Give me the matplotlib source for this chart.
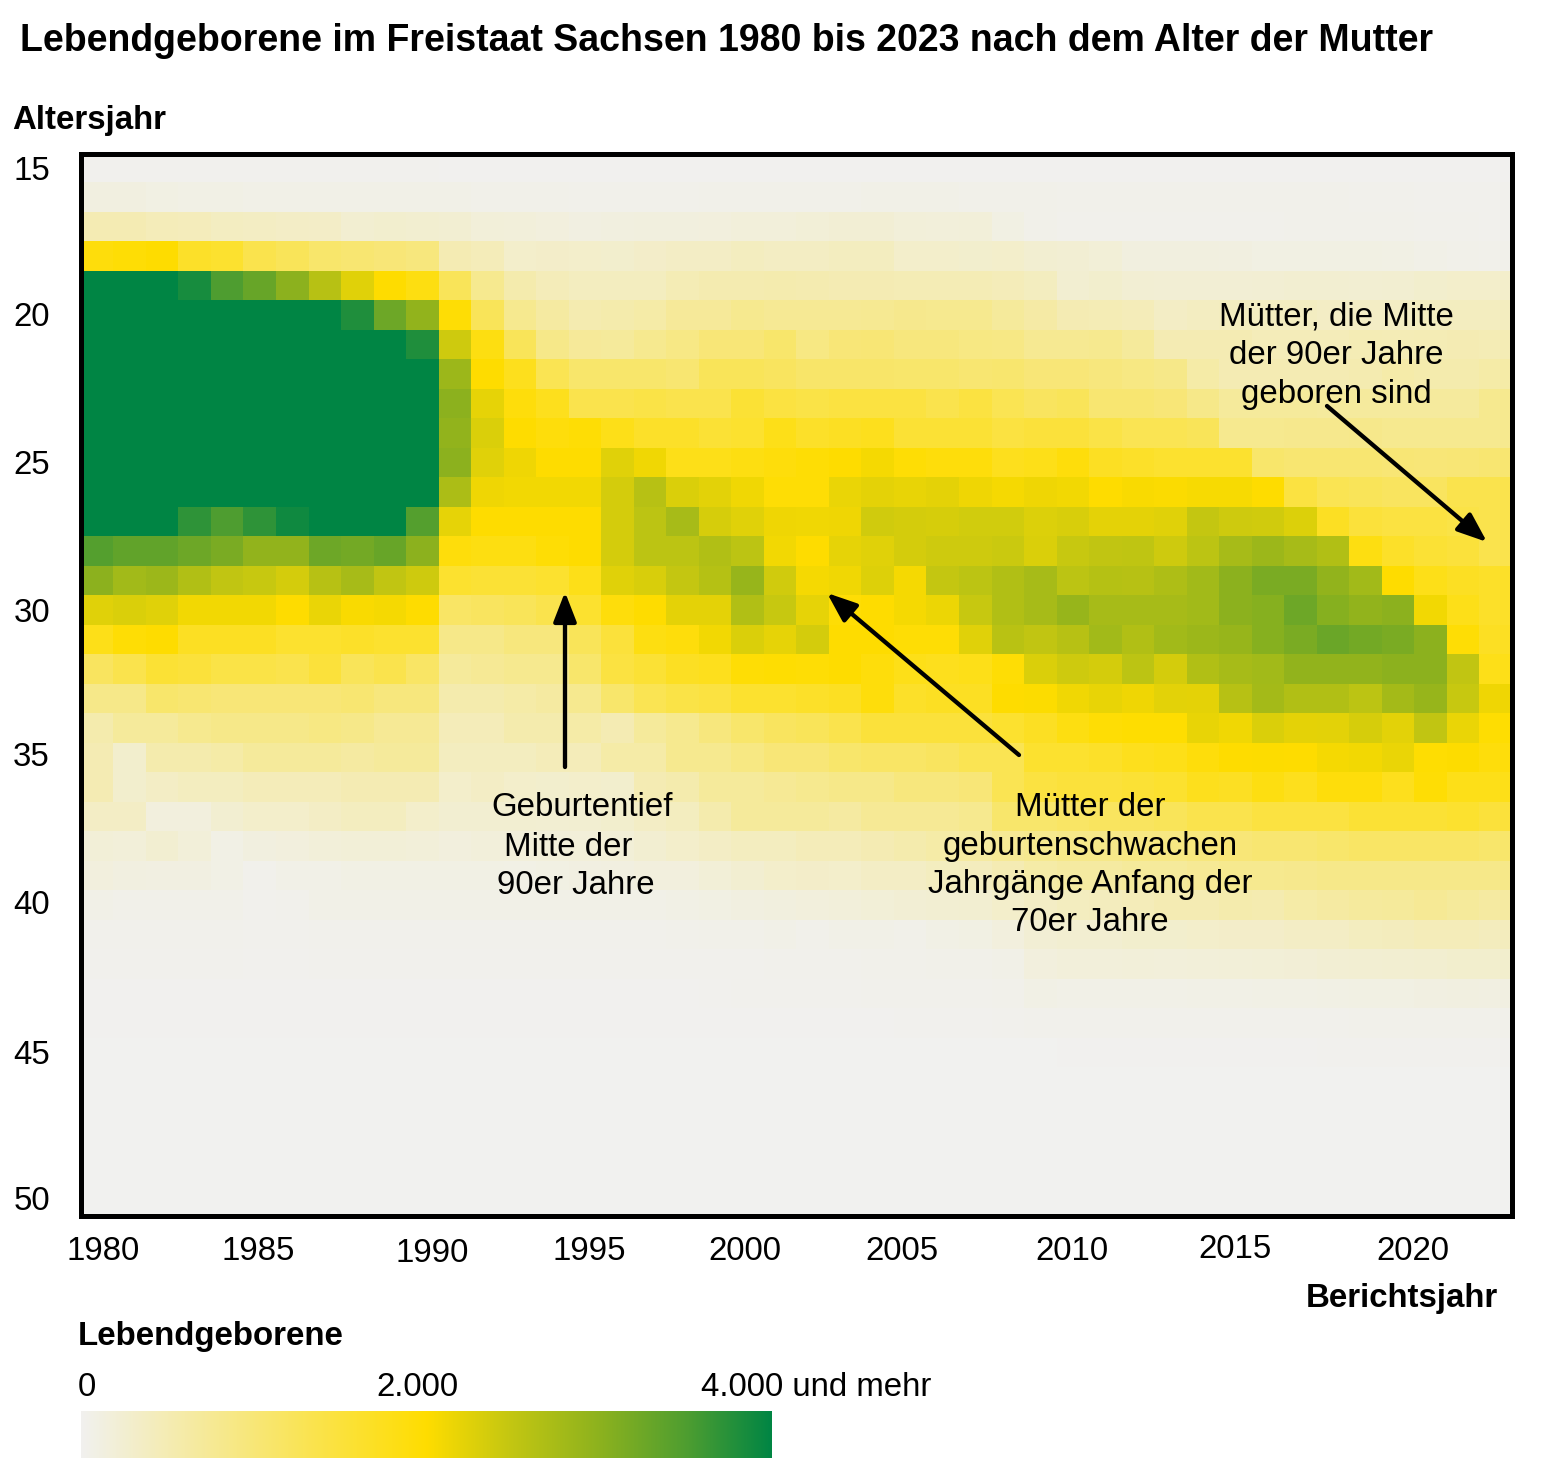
import numpy as np
import matplotlib
matplotlib.use("Agg")
import matplotlib.pyplot as plt
from matplotlib.colors import LinearSegmentedColormap, Normalize

plt.rcParams['font.family'] = ['Liberation Sans', 'DejaVu Sans']

# === Data: births per year (1980-2023) for each age of the mother ===
years = list(range(1980, 2024))
ages = list(range(15, 51))

age_15 = [15]*11 + [10]*19 + [5]*14
age_16 = [120,120,100,80,80,70,60,70,60,60,60,60,50,50,50, 40,40,40,40,50,50,50,50,50,60,60,60,50,50,50, 40,40,40,40,40,40,40,40,40,30,30,20,20,20]
age_17 = [500,500,450,430,380,370,340,330,250,270,260,240,180,170,150, 110,130,140,140,150,170,170,200,220,220,180,170,180,100,50, 30,30,30,30,30,30,30,40,40,40,40,30,30,20]
age_18 = [1900,1950,2000,1650,1600,1350,1250,1100,1050,1000,950,500,450,300,320, 300,280,320,350,350,400,370,370,400,400,300,300,280,300,250, 230,200,130,130,130,120,100,100,100,100,90,60,50,40]
age_19 = [4500,4400,4300,3850,3500,3300,3000,2600,2250,2000,1850,1250,800,550,450, 400,400,400,480,520,520,540,520,500,500,480,480,480,450,400, 250,280,230,220,220,220,230,250,250,240,250,280,300,300]
age_20 = [5000,5000,5000,5000,5000,4800,4500,4300,3800,3250,2950,1950,1250,800,650, 520,560,600,720,720,800,760,760,760,780,820,800,800,700,620, 500,480,450,350,380,400,380,380,350,350,360,380,400,400]
age_21 = [5600,5500,5400,5400,5300,5100,4900,4800,4500,4300,3800,2400,1850,1250,850, 720,700,800,880,1000,1000,1100,900,1000,1020,950,950,900,880,780, 780,800,700,500,500,500,450,450,450,480,470,480,500,480]
age_22 = [6000,5900,5800,5800,5600,5400,5200,5000,4800,4600,4200,2850,2000,1750,1300, 1100,1100,1100,1050,1250,1250,1200,1120,1120,1120,1100,1100,1050,1080,1000, 1000,950,900,850,600,500,500,500,500,520,580,550,550,600]
age_23 = [6100,6000,5900,5900,5700,5500,5300,5100,4900,4700,4300,3000,2200,1900,1750, 1350,1350,1400,1350,1350,1550,1450,1400,1450,1450,1450,1350,1450,1300,1200, 1250,1050,1050,1000,850,700,700,700,680,680,680,680,680,800]
age_24 = [5800,5700,5600,5600,5500,5300,5100,4900,4800,4500,4200,2950,2300,2000,1900, 1950,1800,1650,1650,1550,1600,1800,1650,1700,1750,1550,1550,1550,1450,1500, 1500,1400,1300,1300,1250,800,800,820,820,830,800,800,800,800]
age_25 = [5200,5100,5000,5000,4900,4800,4700,4600,4500,4300,4100,3000,2250,2130,2000, 2000,2250,2120,1800,1800,1850,1900,1950,2000,2080,1950,1900,1900,1750,1800, 1900,1700,1650,1600,1600,1600,1100,1050,1050,1050,1020,1000,1020,1050]
age_26 = [4600,4500,4400,4400,4300,4300,4200,4200,4100,4100,4050,2700,2130,2100,2100, 2100,2350,2600,2300,2230,2120,1950,1950,2170,2220,2180,2220,2130,2080,2130, 2100,2000,2050,2030,2060,2060,2000,1450,1300,1250,1200,1200,1350,1350]
age_27 = [4200,4100,4050,3700,3500,3700,3900,4000,4000,4000,3450,2200,2000,2000,2000, 2000,2350,2550,2750,2330,2250,2130,2120,2130,2380,2350,2330,2370,2370,2280, 2320,2220,2220,2250,2480,2400,2380,2280,1700,1500,1450,1450,1400,1350]
age_28 = [3450,3350,3350,3250,3150,2950,2950,3250,3200,3300,3000,1900,1850,1850,1950, 2000,2350,2550,2550,2650,2550,2100,2000,2200,2250,2350,2400,2400,2430,2300, 2450,2500,2520,2400,2550,2750,2850,2750,2650,1850,1650,1550,1500,1350]
age_29 = [3000,2800,2850,2650,2500,2450,2350,2600,2750,2500,2400,1600,1550,1550,1600, 1800,2250,2320,2480,2620,2900,2380,2080,2120,2270,2080,2480,2550,2650,2750, 2550,2620,2600,2680,2800,3000,3150,3150,2950,2800,2000,1800,1700,1650]
age_30 = [2250,2300,2250,2100,2100,2100,2000,2170,2050,2080,2000,1150,1200,1250,1350, 1600,1900,2000,2220,2220,2650,2450,2200,1950,2000,2080,2150,2450,2650,2750, 2900,2750,2750,2750,2800,3000,3050,3250,3050,2950,3000,2100,1800,1650]
age_31 = [1800,1950,2000,1700,1700,1700,1600,1600,1650,1600,1600,850,850,950,950, 1250,1500,1850,1900,2100,2300,2200,2350,2000,2000,1950,1950,2250,2580,2500, 2600,2800,2650,2800,2850,2900,3050,3150,3280,3200,3150,3000,1950,1700]
age_32 = [1200,1350,1550,1500,1400,1400,1350,1500,1250,1350,1150,700,750,800,800, 1100,1450,1550,1700,1750,1950,1980,1950,2000,1900,1800,1750,1800,1950,2300, 2400,2350,2550,2350,2650,2750,2800,2950,2950,2950,3000,3000,2500,1800]
age_33 = [850,850,1100,1050,1000,1000,1000,1000,1050,950,950,550,550,600,650, 800,1100,1300,1400,1450,1600,1600,1650,1700,1900,1650,1700,1700,2000,2020, 2120,2180,2130,2230,2220,2600,2780,2650,2650,2550,2780,2900,2450,2130]
age_34 = [550,700,700,800,850,850,850,900,850,750,750,450,450,550,550, 600,500,700,800,950,1100,1200,1250,1350,1500,1500,1500,1500,1600,1700, 1850,1950,1990,1990,2180,2120,2300,2220,2230,2330,2230,2500,2170,1980]
age_35 = [500,280,550,550,600,700,700,700,650,700,700,400,400,400,450, 450,600,600,800,800,900,1000,1000,1100,1150,1150,1200,1300,1300,1600, 1600,1650,1750,1800,1900,2000,2010,2000,2080,2100,2170,1980,2010,1900]
age_36 = [500,280,350,400,400,450,450,450,500,500,500,300,350,300,280, 300,280,500,550,700,700,750,800,850,850,950,950,1000,1300,1450, 1500,1500,1550,1600,1750,1700,1850,1750,1900,1900,1750,1950,1800,1800]
age_37 = [350,350,150,150,250,300,300,350,400,400,300,250,250,250,240, 250,280,350,400,550,700,700,700,650,750,750,750,800,1100,1100, 1150,1200,1200,1250,1350,1350,1450,1450,1450,1550,1550,1550,1600,1500]
age_38 = [200,180,250,180,80,130,150,180,200,200,180,150,170,170,170, 180,200,250,300,350,400,400,450,450,500,550,600,650,750,800, 850,850,900,900,950,1000,1050,1050,1100,1150,1150,1150,1150,1100]
age_39 = [150,120,110,110,80,30,60,60,90,90,90,90,90,80,100, 110,120,150,150,200,250,300,320,300,350,350,400,420,500,600, 650,650,700,700,750,800,800,820,850,850,850,850,850,850]
age_40 = [70,50,50,50,50,20,30,70,70,70,70,70,60,60,60, 60,60,60,80,100,120,140,160,170,200,220,240,250,300,350, 400,420,450,500,500,550,520,600,640,680,700,750,700,650]
age_41 = [30,30,30,30,30,20,20,30,30,30,30,30,30,30,30, 30,30,30,40,50,50,60,40,60,60,50,80,100,150,220, 250,250,280,280,300,320,320,350,350,400,420,450,450,420]
age_42 = [20,20,20,20,20,15,15,20,20,20,20,20,20,20,20, 20,20,20,20,25,25,30,30,30,40,40,50,50,70,150, 170,170,180,170,180,190,200,210,230,240,250,260,280,280]
age_43 = [10]*15 + [10,10,10,10,15,20,20,25,25,30,30,30,35,40,80, 70,70,70,70,75,75,80,80,90,100,100,110,120,110]
age_44 = [5]*15 + [5,5,5,5,5,10,10,10,10,10,15,15,15,20,30, 30,30,30,30,30,35,35,35,35,40,40,40,40,40]
age_45 = [3]*30 + [10,10,10,10,10,10,10,10,15,15,15,15,15,15]
age_46 = [2]*44
age_47 = [1]*44
age_48 = [1]*44
age_49 = [0]*44
age_50 = [0]*44

births = np.array([age_15, age_16, age_17, age_18, age_19, age_20, age_21, age_22, age_23,
                   age_24, age_25, age_26, age_27, age_28, age_29, age_30, age_31, age_32,
                   age_33, age_34, age_35, age_36, age_37, age_38, age_39, age_40, age_41,
                   age_42, age_43, age_44, age_45, age_46, age_47, age_48, age_49, age_50])

year_labels = ["1980", "1985", "1990", "1995", "2000", "2005", "2010", "2015", "2020"]
age_labels = ["15", "20", "25", "30", "35", "40", "45", "50"]

# === Figure helpers (positions in reference pixels) ===
W, H = 1541, 1479
fig = plt.figure(figsize=(W / 100, H / 100), dpi=100)

def px(x, y):
    return x / W, 1 - y / H

def put(x, y, s, ha="center", bold=False, size=23.8):
    fx, fy = px(x, y + 3)
    fig.text(fx, fy, s, ha=ha, va="center", fontsize=size,
             fontweight="bold" if bold else "normal", color="black")

def rect(x0, y0, x1, y1):
    return [x0 / W, 1 - y1 / H, (x1 - x0) / W, (y1 - y0) / H]

# === Colour scale ===
cmap = LinearSegmentedColormap.from_list("births", [
    (0.0, "#f1f1ef"), (0.5, "#ffdd00"), (0.625, "#c2c612"),
    (0.75, "#8db21e"), (0.875, "#4f9e30"), (1.0, "#008544")], N=1024)
norm = Normalize(0, 4000)

# === Heatmap ===
ax = fig.add_axes(rect(81, 153.8, 1511.5, 1215.5))
ax.imshow(births, cmap=cmap, norm=norm, aspect="auto", interpolation="nearest",
          extent=(years[0] - 0.5, years[-1] + 0.5, ages[-1] + 0.5, ages[0] - 0.5))
ax.set_xticks([])
ax.set_yticks([])
for sp in ax.spines.values():
    sp.set_linewidth(3.6)
    sp.set_color("black")

# === Text ===
put(20, 38, "Lebendgeborene im Freistaat Sachsen 1980 bis 2023 nach dem Alter der Mutter", ha="left", bold=True, size=27)
put(12, 118, "Altersjahr", ha="left", bold=True)
put(1498, 1295, "Berichtsjahr", ha="right", bold=True)
put(78, 1334, "Lebendgeborene", ha="left", bold=True)

age_y = [168, 314, 463, 610, 754, 902, 1052, 1199]
for lab, y in zip(age_labels, age_y):
    put(50, y, lab, ha="right")

year_x = [103, 258, 432, 589, 745, 902, 1072, 1235, 1413]
year_y = [1249, 1248, 1250, 1248, 1249, 1249, 1249, 1247, 1249]
for lab, x, y in zip(year_labels, year_x, year_y):
    put(x, y, lab)

put(582, 805, "Geburtentief")
put(568, 844, "Mitte der")
put(576, 882, "90er Jahre")
put(1090, 805, "Mütter der")
put(1090, 844, "geburtenschwachen")
put(1090, 882, "Jahrgänge Anfang der")
put(1090, 920, "70er Jahre")
put(1336, 314, "Mütter, die Mitte")
put(1336, 352, "der 90er Jahre")
put(1336, 391, "geboren sind")

# === Arrows ===
arrows = [((565, 767), (565, 592)), ((1019, 755), (827, 593)), ((1327, 406), (1487, 542))]
for start, end in arrows:
    ax.annotate("", xy=px(*end), xytext=px(*start), xycoords="figure fraction",
                textcoords="figure fraction",
                arrowprops=dict(arrowstyle="-|>,head_length=1.8,head_width=0.7", lw=3.1,
                                color="black", shrinkA=0, shrinkB=0, mutation_scale=10))

# === Legend ===
put(78, 1385, "0", ha="left")
put(417, 1384, "2.000")
put(701, 1384, "4.000 und mehr", ha="left")
cax = fig.add_axes(rect(81, 1411, 772, 1458))
cax.imshow(np.linspace(0, 4000, 1024).reshape(1, -1), cmap=cmap, norm=norm, aspect="auto")
cax.axis("off")

fig.savefig("out.png", dpi=100)
